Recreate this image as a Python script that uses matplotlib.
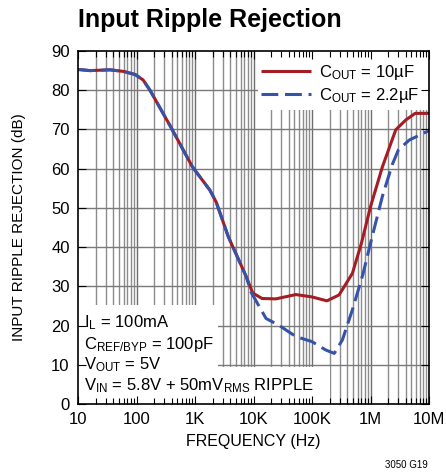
import numpy as np
import matplotlib
matplotlib.use("Agg")
import matplotlib.pyplot as plt
from matplotlib.patches import Rectangle

plt.rcParams['font.family'] = ['Liberation Sans', 'DejaVu Sans']
plt.rcParams['mathtext.fontset'] = 'custom'
plt.rcParams['mathtext.rm'] = 'Liberation Sans'
plt.rcParams['mathtext.it'] = 'Liberation Sans'

# # # # # data # # # # #
freq_red = [10, 16, 35, 60, 95, 130, 170, 370, 900, 1800, 2300, 3700, 7500, 9700,
            14000, 24000, 53000, 100000, 180000, 290000, 490000, 700000,
            1.0e6, 1.6e6, 2.7e6, 4.0e6, 5.8e6, 1.0e7]
db_red = [85.3, 85.0, 85.2, 84.8, 84.0, 82.6, 80.0, 71.1, 60.5, 54.5, 51.5, 42.7, 32.5, 28.3,
          26.9, 26.8, 27.9, 27.3, 26.3, 27.8, 33.3, 41.0,
          50.3, 60.5, 69.9, 72.4, 74.1, 74.1]

freq_blue = [10, 16, 35, 60, 95, 130, 170, 370, 900, 1800, 2300, 3700, 7500, 9100,
             16400, 27000, 53000, 100000, 170000, 240000, 330000, 490000, 740000,
             1.0e6, 1.6e6, 2.35e6, 3.0e6, 4.6e6, 1.0e7]
db_blue = [85.3, 85.0, 85.2, 84.8, 84.0, 82.6, 80.0, 71.1, 60.5, 54.5, 51.5, 42.7, 32.5, 28.5,
           21.8, 20.1, 17.2, 15.9, 13.8, 12.9, 16.3, 24.0, 33.0,
           41.0, 53.0, 61.0, 64.8, 67.3, 69.7]

x_ticks = [10, 100, 1e3, 1e4, 1e5, 1e6, 1e7]
x_labels = ['10', '100', '1K', '10K', '100K', '1M', '10M']
y_ticks = list(range(0, 91, 10))

RED = '#a51d24'
BLUE = '#3553a8'


def main():
    fig = plt.figure(figsize=(4.46, 4.73), dpi=100)
    ax = fig.add_axes([78/446, 69/473, 351/446, 353/473])
    ax.set_xscale('log')
    ax.set_xlim(10, 1e7)
    ax.set_ylim(0, 90)

    # grid drawn by hand so the ticks stay on top of the white boxes
    for dec in x_ticks[:-1]:
        for k in range(1, 10):
            f = dec*k
            if f <= 10:
                continue
            ax.axvline(f, color='#6e6e6e' if k == 1 else '#8c8c8c',
                       lw=1.0, zorder=0.5)
    for v in y_ticks[1:-1]:
        ax.axhline(v, color='#7a7a7a', lw=1.0, zorder=0.5)

    # white boxes behind legend and notes
    ax.add_patch(Rectangle((0.513, 0.833), 0.49, 0.17, transform=ax.transAxes,
                           facecolor='white', edgecolor='none', zorder=1))
    ax.add_patch(Rectangle((0, 0), 0.399, 0.28, transform=ax.transAxes,
                           facecolor='white', edgecolor='none', zorder=1))
    ax.add_patch(Rectangle((0, 0), 0.718, 0.105, transform=ax.transAxes,
                           facecolor='white', edgecolor='none', zorder=1))

    ax.plot(freq_red, db_red, color=RED, lw=2.2, zorder=3,
            label=r'C$_\mathregular{OUT}$ = 10µF', solid_capstyle='butt')
    ax.plot(freq_blue, db_blue, color=BLUE, lw=2.2, zorder=3, dashes=(5.5, 2.2),
            label=r'C$_\mathregular{OUT}$ = 2.2µF')

    ax.set_xticks(x_ticks)
    ax.set_xticklabels(x_labels)
    ax.set_yticks(y_ticks)
    ax.tick_params(which='both', direction='in', top=True, right=True,
                   labelsize=12, pad=6)
    ax.tick_params(which='major', length=6, width=0.8)
    ax.tick_params(which='minor', length=4, width=0.8)
    for s in ax.spines.values():
        s.set_linewidth(1.2)
        s.set_zorder(4)

    ax.set_xlabel('FREQUENCY (Hz)', fontsize=11.5, labelpad=5)
    ax.set_ylabel('INPUT RIPPLE REJECTION (dB)', fontsize=11, labelpad=18)

    leg = ax.legend(loc='upper left', bbox_to_anchor=(0.512, 0.975), frameon=False,
                    fontsize=12, handlelength=3.0, handletextpad=0.5,
                    labelspacing=0.25, borderaxespad=0.0, borderpad=0.2)
    leg.set_zorder(5)

    notes = [r'I$_\mathregular{L}$ = 100mA',
             r'C$_\mathregular{REF/BYP}$ = 100pF',
             r'V$_\mathregular{OUT}$ = 5V',
             r'V$_\mathregular{IN}$ = 5.8V + 50mV$_\mathregular{RMS}$ RIPPLE']
    for i, t in enumerate(notes):
        ax.text(0.017, (404-323-21*i)/353, t, transform=ax.transAxes,
                fontsize=12, va='center', ha='left', zorder=5)

    fig.text(78/446, 1-20/473, 'Input Ripple Rejection', fontsize=18,
             fontweight='bold', va='center', ha='left')
    fig.text(428/446, 1-465/473, '3050 G19', fontsize=7, va='center', ha='right')

    fig.savefig('out.png', dpi=100)


if (__name__ == "__main__"):
    main()
